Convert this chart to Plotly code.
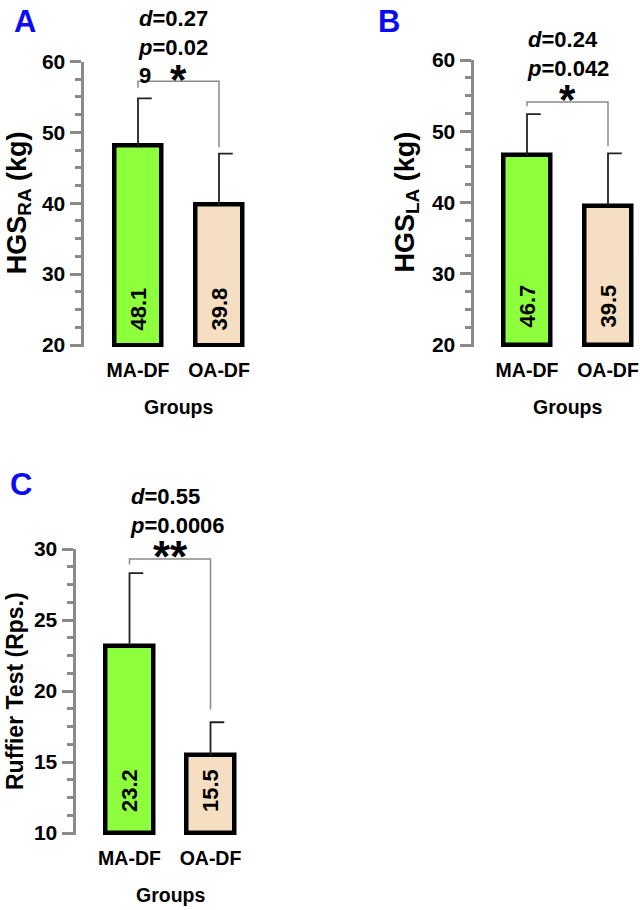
import plotly.graph_objects as go

# ---------------- data ----------------
groups = ["MA-DF", "OA-DF"]
hgs_ra_mean = [48.1, 39.8]
hgs_ra_sd = [6.7, 7.2]
hgs_la_mean = [46.7, 39.5]
hgs_la_sd = [5.7, 7.4]
ruffier_mean = [23.2, 15.5]
ruffier_sd = [5.1, 2.3]
stats_a = ["<i>d</i>=0.27", "<i>p</i>=0.02<br>9", "*"]
stats_b = ["<i>d</i>=0.24", "<i>p</i>=0.042", "*"]
stats_c = ["<i>d</i>=0.55", "<i>p</i>=0.0006", "**"]
bar_colors = ["#8EFF3C", "#F6DEC2"]

W, H = 640, 910
FONT = "Liberation Sans, Arial, sans-serif"
GRAY = "#8a8a8a"
SPACING = 81.0  # px between bar centres

fig = go.Figure()


def px2x(px):
    return px / W


def px2y(py):
    return 1 - py / H


panels = [
    dict(key="", letter="A", letter_xy=(25, 21), mean=hgs_ra_mean, sd=hgs_ra_sd,
         ymin=20, ymax=60, dtick=10, mdtick=2.5, axis_px=83.5, c_px=138, right_px=270,
         top_px=61.5, bot_px=345, title="HGS<sub>RA</sub> (kg)", title_x=19, tsize=27,
         stats=stats_a, stats_mid=46.5, star_px=72, star_size=42,
         bracket=(56.3, 57.2, 47.9), vshift=12, groups_y=407),
    dict(key="2", letter="B", letter_xy=(389, 21), mean=hgs_la_mean, sd=hgs_la_sd,
         ymin=20, ymax=60, dtick=10, mdtick=2.5, axis_px=473.5, c_px=527, right_px=640,
         top_px=60, bot_px=345, title="HGS<sub>LA</sub> (kg)", title_x=406, tsize=27,
         stats=stats_b, stats_mid=54, star_px=92, star_size=42,
         bracket=(53.5, 54.1, 47.9), vshift=15, groups_y=407),
    dict(key="3", letter="C", letter_xy=(21, 484), mean=ruffier_mean, sd=ruffier_sd,
         ymin=10, ymax=30, dtick=5, mdtick=1.25, axis_px=75.5, c_px=129.5, right_px=270,
         top_px=549, bot_px=833, title="Ruffier Test (Rps.)", title_x=15, tsize=23,
         stats=stats_c, stats_mid=511, star_px=549, star_size=44,
         bracket=(28.9, 29.3, 18.7), vshift=19, groups_y=895),
]

annotations = []
shapes = []

for p in panels:
    k = p["key"]
    xa, ya = "x" + k, "y" + k
    scale = (p["bot_px"] - p["top_px"]) / (p["ymax"] - p["ymin"])
    pad = 2.0 / scale
    xs = list(range(len(groups)))

    # bars (drawn from the axis floor)
    fig.add_trace(go.Bar(
        x=xs, y=[m - p["ymin"] for m in p["mean"]], base=p["ymin"],
        width=0.59, marker=dict(color=bar_colors, line=dict(color="black", width=4.5)),
        xaxis=xa, yaxis=ya, showlegend=False, hoverinfo="skip"))

    # one-sided error bars with right caps
    ex, ey = [], []
    cap = 0.17
    for i, (m, s) in enumerate(zip(p["mean"], p["sd"])):
        ex += [i, i, i + cap, None]
        ey += [m, m + s, m + s, None]
    fig.add_trace(go.Scatter(x=ex, y=ey, mode="lines", line=dict(color="#222222", width=1.8),
                             xaxis=xa, yaxis=ya, showlegend=False, hoverinfo="skip"))

    # axes
    xr = [(p["axis_px"] - p["c_px"]) / SPACING, (p["right_px"] - p["c_px"]) / SPACING]
    lo_px = p["bot_px"] + 2.0
    fig.update_layout(**{
        "xaxis" + k: dict(domain=[px2x(p["axis_px"]), px2x(p["right_px"])], range=xr,
                          anchor=ya, showline=False, showgrid=False, zeroline=False,
                          ticks="", tickmode="array", tickvals=xs, ticktext=groups,
                          ticklabelstandoff=9,
                          tickfont=dict(family=FONT, size=19.5, color="black", weight="bold")),
        "yaxis" + k: dict(domain=[px2y(lo_px), px2y(p["top_px"])],
                          range=[p["ymin"] - pad, p["ymax"]], anchor=xa,
                          showline=True, linecolor=GRAY, linewidth=3, showgrid=False,
                          zeroline=False, ticks="outside", ticklen=11, tickwidth=3,
                          tickcolor=GRAY, tickmode="linear", tick0=p["ymin"], dtick=p["dtick"],
                          tickfont=dict(family=FONT, size=21, color="black", weight="bold"),
                          minor=dict(ticks="outside", ticklen=6, tickwidth=3, tickcolor=GRAY,
                                     tickmode="linear", tick0=p["ymin"], dtick=p["mdtick"])),
    })

    # y title
    annotations.append(dict(text="<b>" + p["title"] + "</b>", textangle=-90, xref="paper",
                            yref="paper", x=px2x(p["title_x"]), xanchor="center",
                            y=px2y((p["top_px"] + p["bot_px"]) / 2), yanchor="middle",
                            showarrow=False,
                            font=dict(family=FONT, size=p["tsize"], color="black")))
    # x title
    annotations.append(dict(text="<b>Groups</b>", xref=xa, yref="paper", x=0.5,
                            xanchor="center", y=px2y(p["groups_y"]), yanchor="middle",
                            showarrow=False,
                            font=dict(family=FONT, size=19.5, color="black")))
    # panel letter
    annotations.append(dict(text="<b>" + p["letter"] + "</b>", xref="paper", yref="paper",
                            x=px2x(p["letter_xy"][0]), xanchor="center",
                            y=px2y(p["letter_xy"][1]), yanchor="middle",
                            showarrow=False, font=dict(family=FONT, size=31, color="#0a0af5")))
    # stats text
    annotations.append(dict(text="<b>" + p["stats"][0] + "<br>" + p["stats"][1] + "</b>",
                            align="left", xref=xa, yref="paper", x=-0.02, xanchor="left",
                            y=px2y(p["stats_mid"]), yanchor="middle", showarrow=False,
                            font=dict(family=FONT, size=22, color="black")))
    # significance stars
    annotations.append(dict(text="<b>" + p["stats"][2] + "</b>", xref=xa, yref="paper",
                            x=0.5, xanchor="center",
                            y=px2y(p["star_px"] + p["star_size"] * 0.18),
                            yanchor="middle", showarrow=False,
                            font=dict(family=FONT, size=p["star_size"], color="black")))
    # value labels inside bars
    for i, m in enumerate(p["mean"]):
        annotations.append(dict(text="<b>%.1f</b>" % m, textangle=-90, xref=xa, yref=ya,
                                x=i, xanchor="center", y=p["ymin"], yanchor="bottom",
                                yshift=p["vshift"], showarrow=False,
                                font=dict(family=FONT, size=22, color="black")))
    # bracket
    b0, b1, b2 = p["bracket"]
    shapes.append(dict(type="path", xref=xa, yref=ya,
                       path="M 0,%g L 0,%g L 1,%g L 1,%g" % (b0, b1, b1, b2),
                       line=dict(color=GRAY, width=1.5)))

fig.update_layout(width=W, height=H, margin=dict(l=0, r=0, t=0, b=0),
                  paper_bgcolor="white", plot_bgcolor="white", template="none",
                  font=dict(family=FONT), annotations=annotations, shapes=shapes,
                  bargap=0)

fig.write_html("out.html")
